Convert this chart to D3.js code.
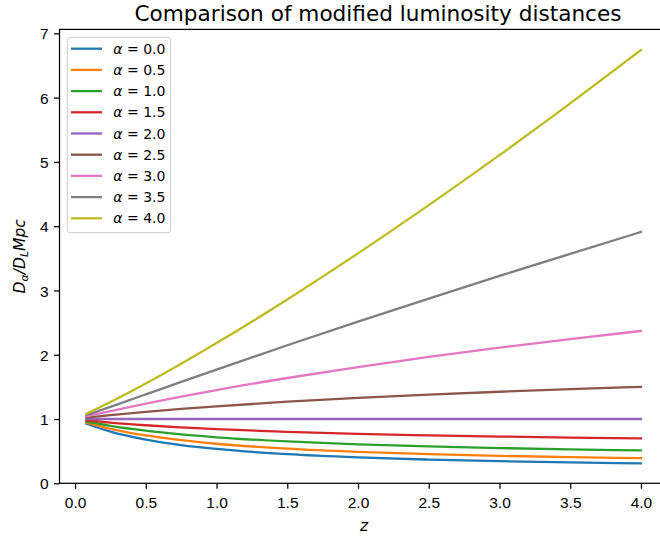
<!DOCTYPE html>
<html>
<head>
<meta charset="utf-8">
<script src="https://cdn.jsdelivr.net/npm/d3@7"></script>
<style>
  html, body { margin: 0; padding: 0; background: #fff; overflow: hidden; }
  svg { display: block; font-family: 'DejaVu Sans', sans-serif; }
  .tick text { font-size: 15.5px; fill: #000; }
  .tick line { stroke: #000; stroke-width: 1.25; }
</style>
</head>
<body>
<div id="chart"></div>
<script>
/* ============================================================
   Comparison of modified luminosity distances
   ============================================================ */

// --- Data ---
const Z_VALUES = [0.08, 0.25, 0.5, 0.75, 1.0, 1.5, 2.0, 2.5, 3.0, 3.5, 4.0];
const ALPHA_LABELS = ['0.0', '0.5', '1.0', '1.5', '2.0', '2.5', '3.0', '3.5', '4.0'];

const RATIO_A00 = [0.927, 0.804, 0.680, 0.595, 0.534, 0.453, 0.403, 0.369, 0.344, 0.325, 0.311];
const RATIO_A05 = [0.944, 0.848, 0.745, 0.671, 0.615, 0.539, 0.489, 0.454, 0.427, 0.407, 0.391];
const RATIO_A10 = [0.962, 0.895, 0.819, 0.761, 0.716, 0.651, 0.606, 0.573, 0.548, 0.528, 0.511];
const RATIO_A15 = [0.981, 0.945, 0.903, 0.870, 0.842, 0.800, 0.769, 0.746, 0.727, 0.711, 0.698];
const RATIO_A20 = [1.000, 1.000, 1.000, 1.000, 1.000, 1.000, 1.000, 1.000, 1.000, 1.000, 1.000];
const RATIO_A25 = [1.020, 1.059, 1.110, 1.157, 1.198, 1.269, 1.328, 1.379, 1.424, 1.464, 1.500];
const RATIO_A30 = [1.040, 1.122, 1.238, 1.347, 1.450, 1.638, 1.809, 1.965, 2.109, 2.243, 2.370];
const RATIO_A35 = [1.060, 1.190, 1.383, 1.577, 1.769, 2.147, 2.515, 2.874, 3.226, 3.570, 3.910];
const RATIO_A40 = [1.082, 1.264, 1.552, 1.859, 2.181, 2.860, 3.577, 4.327, 5.105, 5.910, 6.740];

const SERIES = [RATIO_A00, RATIO_A05, RATIO_A10, RATIO_A15, RATIO_A20,
                RATIO_A25, RATIO_A30, RATIO_A35, RATIO_A40];

const X_TICKS = [0, 0.5, 1.0, 1.5, 2.0, 2.5, 3.0, 3.5, 4.0];
const Y_TICKS = [0, 1, 2, 3, 4, 5, 6, 7];

// tab10 palette
const COLORS = ['#1f77b4', '#ff7f0e', '#2ca02c', '#d62728', '#9467bd',
                '#8c564b', '#e377c2', '#7f7f7f', '#bcbd22'];

function drawChart() {
    const W = 660, H = 541;
    const plot = { left: 59.5, right: 668.7, top: 29.4, bottom: 483.3 };

    const svg = d3.select('#chart').append('svg')
        .attr('width', W)
        .attr('height', H);

    // Scales
    const x = d3.scaleLinear().domain([-0.11, 4.196]).range([plot.left, plot.right]);
    const y = d3.scaleLinear().domain([0, 7.061]).range([plot.bottom, plot.top]);

    // Curves
    const line = d3.line()
        .x((d, i) => x(Z_VALUES[i]))
        .y(d => y(d))
        .curve(d3.curveMonotoneX);

    svg.append('g').selectAll('path')
        .data(SERIES)
        .join('path')
        .attr('d', line)
        .attr('fill', 'none')
        .attr('stroke', (d, i) => COLORS[i])
        .attr('stroke-width', 2.3)
        .attr('stroke-linecap', 'square');

    // Frame
    svg.append('rect')
        .attr('x', plot.left).attr('y', plot.top)
        .attr('width', plot.right - plot.left)
        .attr('height', plot.bottom - plot.top)
        .attr('fill', 'none')
        .attr('stroke', '#000')
        .attr('stroke-width', 1.25);

    // Axes
    const xAxis = svg.append('g')
        .attr('transform', `translate(0,${plot.bottom})`)
        .call(d3.axisBottom(x).tickValues(X_TICKS).tickFormat(d3.format('.1f')).tickSize(5.5).tickSizeOuter(0));
    xAxis.select('.domain').remove();
    xAxis.selectAll('.tick text').attr('y', 25.2).attr('dy', null);

    const yAxis = svg.append('g')
        .attr('transform', `translate(${plot.left},0)`)
        .call(d3.axisLeft(y).tickValues(Y_TICKS).tickFormat(d3.format('d')).tickSize(5.5).tickSizeOuter(0));
    yAxis.select('.domain').remove();
    yAxis.selectAll('.tick text').attr('x', -11).attr('dy', '0.36em');

    // Title and labels
    const cx = (plot.left + plot.right) / 2;
    svg.append('text')
        .attr('x', 378).attr('y', 20.5)
        .attr('text-anchor', 'middle')
        .style('font-size', '21.6px')
        .text('Comparison of modified luminosity distances');

    svg.append('text')
        .attr('x', cx).attr('y', 531)
        .attr('text-anchor', 'middle')
        .style('font-size', '15.5px')
        .style('font-style', 'italic')
        .text('z');

    const yLabel = svg.append('text')
        .attr('transform', `translate(25,${(plot.top + plot.bottom) / 2}) rotate(-90)`)
        .attr('text-anchor', 'middle')
        .style('font-size', '15.5px')
        .style('font-style', 'italic');
    yLabel.append('tspan').text('D');
    yLabel.append('tspan').attr('dy', 3).style('font-size', '11px').text('α');
    yLabel.append('tspan').attr('dy', -3).text('/D');
    yLabel.append('tspan').attr('dy', 3).style('font-size', '11px').text('L');
    yLabel.append('tspan').attr('dy', -3).text('Mpc');

    // Legend
    const legend = svg.append('g');
    legend.append('rect')
        .attr('x', 67.3).attr('y', 37.3)
        .attr('width', 103.4).attr('height', 195.4)
        .attr('rx', 3)
        .attr('fill', '#fff').attr('fill-opacity', 0.8)
        .attr('stroke', '#cccccc').attr('stroke-width', 1);

    ALPHA_LABELS.forEach((label, i) => {
        const ly = 48.7 + i * 21.2;
        legend.append('line')
            .attr('x1', 71).attr('x2', 102)
            .attr('y1', ly).attr('y2', ly)
            .attr('stroke', COLORS[i]).attr('stroke-width', 2.3);
        const t = legend.append('text')
            .attr('x', 113.3).attr('y', ly + 5)
            .style('font-size', '14px');
        t.append('tspan').style('font-style', 'italic').text('α');
        t.append('tspan').text(` = ${label}`);
    });
}

drawChart();
</script>
</body>
</html>
